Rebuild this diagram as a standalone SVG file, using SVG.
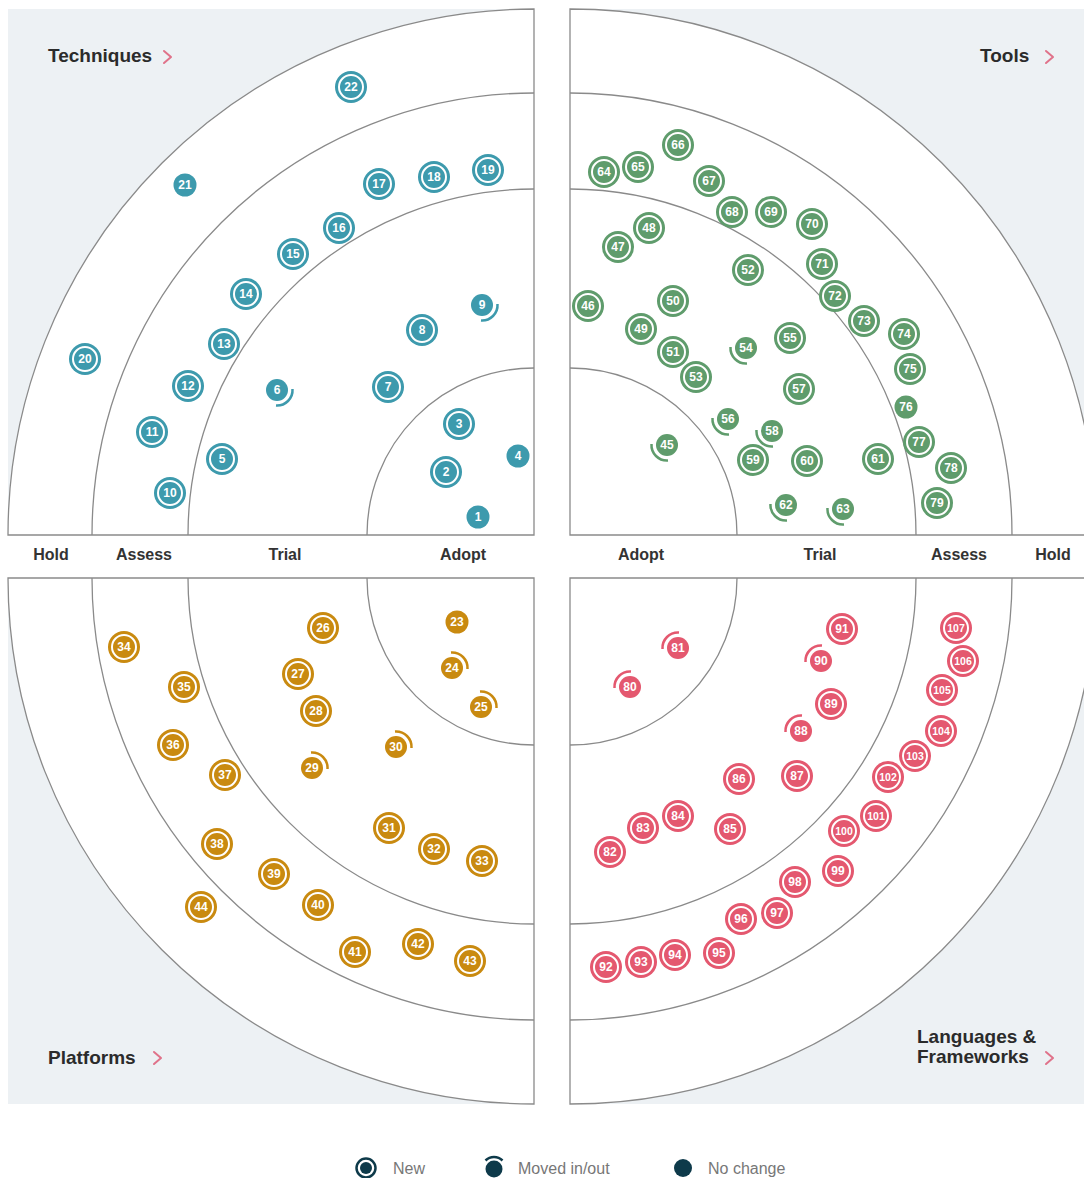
<svg xmlns="http://www.w3.org/2000/svg" xmlns:xlink="http://www.w3.org/1999/xlink" width="1084" height="1178" viewBox="0 0 1084 1178">
<style>
text{font-family:"Liberation Sans",Arial,sans-serif}
.ring{fill:none;stroke:#8a8a8a;stroke-width:1.3}
.title{font-size:19px;font-weight:bold;fill:#2b2b2b}
.chev{fill:none;stroke:#e0728a;stroke-width:2;stroke-linecap:round;stroke-linejoin:round}
.lbl{font-size:16px;font-weight:bold;fill:#333;text-anchor:middle}
.leg{font-size:16px;fill:#777}
.w{fill:none;stroke:#fff;stroke-width:2}
.a{fill:none;stroke-width:2.5}
.n{font-size:12px;font-weight:bold;fill:#fff;text-anchor:middle}
.n3{font-size:10.5px;font-weight:bold;fill:#fff;text-anchor:middle}
.tech .d{fill:#3d9aad}.tech .a{stroke:#3d9aad}
.tool .d{fill:#5f9c6c}.tool .a{stroke:#5f9c6c}
.plat .d{fill:#c98a10}.plat .a{stroke:#c98a10}
.lang .d{fill:#e4586f}.lang .a{stroke:#e4586f}
</style>
<defs>
<g id="quad">
<rect x="-526" y="-526" width="526" height="526" fill="#edf1f4"/>
<path d="M0 0 H-526 A526 526 0 0 1 0 -526 Z" fill="#fff" stroke="#8a8a8a" stroke-width="1.3"/>
<path class="ring" d="M-442 0 A442 442 0 0 1 0 -442 M-346 0 A346 346 0 0 1 0 -346 M-167 0 A167 167 0 0 1 0 -167"/>
</g>
<path id="aSE" d="M15.5 -1 A15.5 15.5 0 0 1 -1 15.5"/>
<path id="aSW" d="M1 15.5 A15.5 15.5 0 0 1 -15.5 -1"/>
<path id="aNE" d="M-1 -15.5 A15.5 15.5 0 0 1 15.5 1"/>
<path id="aNW" d="M-15.5 1 A15.5 15.5 0 0 1 1 -15.5"/>
</defs>
<rect width="1084" height="1178" fill="#fff"/>
<g id="quadrants">
<use xlink:href="#quad" transform="translate(534,535)"/>
<use xlink:href="#quad" transform="translate(570,535) scale(-1,1)"/>
<use xlink:href="#quad" transform="translate(534,578) scale(1,-1)"/>
<use xlink:href="#quad" transform="translate(570,578) scale(-1,-1)"/>
</g>
<g id="titles">
<text class="title" x="48" y="62">Techniques</text>
<polyline class="chev" points="164,51 171,57 164,63"/>
<text class="title" x="980" y="62">Tools</text>
<polyline class="chev" points="1046,51 1053,57 1046,63"/>
<text class="title" x="48" y="1064">Platforms</text>
<polyline class="chev" points="154,1052 161,1058 154,1064"/>
<text class="title" x="917" y="1043">Languages &amp;</text>
<text class="title" x="917" y="1063">Frameworks</text>
<polyline class="chev" points="1046,1052 1053,1058 1046,1064"/>
</g>
<g id="ring-labels">
<text class="lbl" x="51" y="560">Hold</text>
<text class="lbl" x="144" y="560">Assess</text>
<text class="lbl" x="285" y="560">Trial</text>
<text class="lbl" x="463" y="560">Adopt</text>
<text class="lbl" x="641" y="560">Adopt</text>
<text class="lbl" x="820" y="560">Trial</text>
<text class="lbl" x="959" y="560">Assess</text>
<text class="lbl" x="1053" y="560">Hold</text>
</g>
<g id="connectors"/>
<g id="techniques" class="tech">
<g id="b1" transform="translate(478,517)"><circle class="d" r="11.5"/><text class="n" y="4.3">1</text></g>
<g id="b2" transform="translate(446,472)"><circle class="d" r="16"/><circle class="w" r="12"/><text class="n" y="4.3">2</text></g>
<g id="b3" transform="translate(459,424)"><circle class="d" r="16"/><circle class="w" r="12"/><text class="n" y="4.3">3</text></g>
<g id="b4" transform="translate(518,456)"><circle class="d" r="11.5"/><text class="n" y="4.3">4</text></g>
<g id="b5" transform="translate(222,459)"><circle class="d" r="16"/><circle class="w" r="12"/><text class="n" y="4.3">5</text></g>
<g id="b6" transform="translate(277,390)"><circle class="d" r="11"/><use class="a" xlink:href="#aSE"/><text class="n" y="4.3">6</text></g>
<g id="b7" transform="translate(388,387)"><circle class="d" r="16"/><circle class="w" r="12"/><text class="n" y="4.3">7</text></g>
<g id="b8" transform="translate(422,330)"><circle class="d" r="16"/><circle class="w" r="12"/><text class="n" y="4.3">8</text></g>
<g id="b9" transform="translate(482,305)"><circle class="d" r="11"/><use class="a" xlink:href="#aSE"/><text class="n" y="4.3">9</text></g>
<g id="b10" transform="translate(170,493)"><circle class="d" r="16"/><circle class="w" r="12"/><text class="n" y="4.3">10</text></g>
<g id="b11" transform="translate(152,432)"><circle class="d" r="16"/><circle class="w" r="12"/><text class="n" y="4.3">11</text></g>
<g id="b12" transform="translate(188,386)"><circle class="d" r="16"/><circle class="w" r="12"/><text class="n" y="4.3">12</text></g>
<g id="b13" transform="translate(224,344)"><circle class="d" r="16"/><circle class="w" r="12"/><text class="n" y="4.3">13</text></g>
<g id="b14" transform="translate(246,294)"><circle class="d" r="16"/><circle class="w" r="12"/><text class="n" y="4.3">14</text></g>
<g id="b15" transform="translate(293,254)"><circle class="d" r="16"/><circle class="w" r="12"/><text class="n" y="4.3">15</text></g>
<g id="b16" transform="translate(339,228)"><circle class="d" r="16"/><circle class="w" r="12"/><text class="n" y="4.3">16</text></g>
<g id="b17" transform="translate(379,184)"><circle class="d" r="16"/><circle class="w" r="12"/><text class="n" y="4.3">17</text></g>
<g id="b18" transform="translate(434,177)"><circle class="d" r="16"/><circle class="w" r="12"/><text class="n" y="4.3">18</text></g>
<g id="b19" transform="translate(488,170)"><circle class="d" r="16"/><circle class="w" r="12"/><text class="n" y="4.3">19</text></g>
<g id="b20" transform="translate(85,359)"><circle class="d" r="16"/><circle class="w" r="12"/><text class="n" y="4.3">20</text></g>
<g id="b21" transform="translate(185,185)"><circle class="d" r="11.5"/><text class="n" y="4.3">21</text></g>
<g id="b22" transform="translate(351,87)"><circle class="d" r="16"/><circle class="w" r="12"/><text class="n" y="4.3">22</text></g>
</g>
<g id="tools" class="tool">
<g id="b45" transform="translate(667,445)"><circle class="d" r="11"/><use class="a" xlink:href="#aSW"/><text class="n" y="4.3">45</text></g>
<g id="b46" transform="translate(588,306)"><circle class="d" r="16"/><circle class="w" r="12"/><text class="n" y="4.3">46</text></g>
<g id="b47" transform="translate(618,247)"><circle class="d" r="16"/><circle class="w" r="12"/><text class="n" y="4.3">47</text></g>
<g id="b48" transform="translate(649,228)"><circle class="d" r="16"/><circle class="w" r="12"/><text class="n" y="4.3">48</text></g>
<g id="b49" transform="translate(641,329)"><circle class="d" r="16"/><circle class="w" r="12"/><text class="n" y="4.3">49</text></g>
<g id="b50" transform="translate(673,301)"><circle class="d" r="16"/><circle class="w" r="12"/><text class="n" y="4.3">50</text></g>
<g id="b51" transform="translate(673,352)"><circle class="d" r="16"/><circle class="w" r="12"/><text class="n" y="4.3">51</text></g>
<g id="b52" transform="translate(748,270)"><circle class="d" r="16"/><circle class="w" r="12"/><text class="n" y="4.3">52</text></g>
<g id="b53" transform="translate(696,377)"><circle class="d" r="16"/><circle class="w" r="12"/><text class="n" y="4.3">53</text></g>
<g id="b54" transform="translate(746,348)"><circle class="d" r="11"/><use class="a" xlink:href="#aSW"/><text class="n" y="4.3">54</text></g>
<g id="b55" transform="translate(790,338)"><circle class="d" r="16"/><circle class="w" r="12"/><text class="n" y="4.3">55</text></g>
<g id="b56" transform="translate(728,419)"><circle class="d" r="11"/><use class="a" xlink:href="#aSW"/><text class="n" y="4.3">56</text></g>
<g id="b57" transform="translate(799,389)"><circle class="d" r="16"/><circle class="w" r="12"/><text class="n" y="4.3">57</text></g>
<g id="b58" transform="translate(772,431)"><circle class="d" r="11"/><use class="a" xlink:href="#aSW"/><text class="n" y="4.3">58</text></g>
<g id="b59" transform="translate(753,460)"><circle class="d" r="16"/><circle class="w" r="12"/><text class="n" y="4.3">59</text></g>
<g id="b60" transform="translate(807,461)"><circle class="d" r="16"/><circle class="w" r="12"/><text class="n" y="4.3">60</text></g>
<g id="b61" transform="translate(878,459)"><circle class="d" r="16"/><circle class="w" r="12"/><text class="n" y="4.3">61</text></g>
<g id="b62" transform="translate(786,505)"><circle class="d" r="11"/><use class="a" xlink:href="#aSW"/><text class="n" y="4.3">62</text></g>
<g id="b63" transform="translate(843,509)"><circle class="d" r="11"/><use class="a" xlink:href="#aSW"/><text class="n" y="4.3">63</text></g>
<g id="b64" transform="translate(604,172)"><circle class="d" r="16"/><circle class="w" r="12"/><text class="n" y="4.3">64</text></g>
<g id="b65" transform="translate(638,167)"><circle class="d" r="16"/><circle class="w" r="12"/><text class="n" y="4.3">65</text></g>
<g id="b66" transform="translate(678,145)"><circle class="d" r="16"/><circle class="w" r="12"/><text class="n" y="4.3">66</text></g>
<g id="b67" transform="translate(709,181)"><circle class="d" r="16"/><circle class="w" r="12"/><text class="n" y="4.3">67</text></g>
<g id="b68" transform="translate(732,212)"><circle class="d" r="16"/><circle class="w" r="12"/><text class="n" y="4.3">68</text></g>
<g id="b69" transform="translate(771,212)"><circle class="d" r="16"/><circle class="w" r="12"/><text class="n" y="4.3">69</text></g>
<g id="b70" transform="translate(812,224)"><circle class="d" r="16"/><circle class="w" r="12"/><text class="n" y="4.3">70</text></g>
<g id="b71" transform="translate(822,264)"><circle class="d" r="16"/><circle class="w" r="12"/><text class="n" y="4.3">71</text></g>
<g id="b72" transform="translate(835,296)"><circle class="d" r="16"/><circle class="w" r="12"/><text class="n" y="4.3">72</text></g>
<g id="b73" transform="translate(864,321)"><circle class="d" r="16"/><circle class="w" r="12"/><text class="n" y="4.3">73</text></g>
<g id="b74" transform="translate(904,334)"><circle class="d" r="16"/><circle class="w" r="12"/><text class="n" y="4.3">74</text></g>
<g id="b75" transform="translate(910,369)"><circle class="d" r="16"/><circle class="w" r="12"/><text class="n" y="4.3">75</text></g>
<g id="b76" transform="translate(906,407)"><circle class="d" r="11.5"/><text class="n" y="4.3">76</text></g>
<g id="b77" transform="translate(919,442)"><circle class="d" r="16"/><circle class="w" r="12"/><text class="n" y="4.3">77</text></g>
<g id="b78" transform="translate(951,468)"><circle class="d" r="16"/><circle class="w" r="12"/><text class="n" y="4.3">78</text></g>
<g id="b79" transform="translate(937,503)"><circle class="d" r="16"/><circle class="w" r="12"/><text class="n" y="4.3">79</text></g>
</g>
<g id="platforms" class="plat">
<g id="b23" transform="translate(457,622)"><circle class="d" r="11.5"/><text class="n" y="4.3">23</text></g>
<g id="b24" transform="translate(452,668)"><circle class="d" r="11"/><use class="a" xlink:href="#aNE"/><text class="n" y="4.3">24</text></g>
<g id="b25" transform="translate(481,707)"><circle class="d" r="11"/><use class="a" xlink:href="#aNE"/><text class="n" y="4.3">25</text></g>
<g id="b26" transform="translate(323,628)"><circle class="d" r="16"/><circle class="w" r="12"/><text class="n" y="4.3">26</text></g>
<g id="b27" transform="translate(298,674)"><circle class="d" r="16"/><circle class="w" r="12"/><text class="n" y="4.3">27</text></g>
<g id="b28" transform="translate(316,711)"><circle class="d" r="16"/><circle class="w" r="12"/><text class="n" y="4.3">28</text></g>
<g id="b29" transform="translate(312,768)"><circle class="d" r="11"/><use class="a" xlink:href="#aNE"/><text class="n" y="4.3">29</text></g>
<g id="b30" transform="translate(396,747)"><circle class="d" r="11"/><use class="a" xlink:href="#aNE"/><text class="n" y="4.3">30</text></g>
<g id="b31" transform="translate(389,828)"><circle class="d" r="16"/><circle class="w" r="12"/><text class="n" y="4.3">31</text></g>
<g id="b32" transform="translate(434,849)"><circle class="d" r="16"/><circle class="w" r="12"/><text class="n" y="4.3">32</text></g>
<g id="b33" transform="translate(482,861)"><circle class="d" r="16"/><circle class="w" r="12"/><text class="n" y="4.3">33</text></g>
<g id="b34" transform="translate(124,647)"><circle class="d" r="16"/><circle class="w" r="12"/><text class="n" y="4.3">34</text></g>
<g id="b35" transform="translate(184,687)"><circle class="d" r="16"/><circle class="w" r="12"/><text class="n" y="4.3">35</text></g>
<g id="b36" transform="translate(173,745)"><circle class="d" r="16"/><circle class="w" r="12"/><text class="n" y="4.3">36</text></g>
<g id="b37" transform="translate(225,775)"><circle class="d" r="16"/><circle class="w" r="12"/><text class="n" y="4.3">37</text></g>
<g id="b38" transform="translate(217,844)"><circle class="d" r="16"/><circle class="w" r="12"/><text class="n" y="4.3">38</text></g>
<g id="b39" transform="translate(274,874)"><circle class="d" r="16"/><circle class="w" r="12"/><text class="n" y="4.3">39</text></g>
<g id="b40" transform="translate(318,905)"><circle class="d" r="16"/><circle class="w" r="12"/><text class="n" y="4.3">40</text></g>
<g id="b41" transform="translate(355,952)"><circle class="d" r="16"/><circle class="w" r="12"/><text class="n" y="4.3">41</text></g>
<g id="b42" transform="translate(418,944)"><circle class="d" r="16"/><circle class="w" r="12"/><text class="n" y="4.3">42</text></g>
<g id="b43" transform="translate(470,961)"><circle class="d" r="16"/><circle class="w" r="12"/><text class="n" y="4.3">43</text></g>
<g id="b44" transform="translate(201,907)"><circle class="d" r="16"/><circle class="w" r="12"/><text class="n" y="4.3">44</text></g>
</g>
<g id="languages" class="lang">
<g id="b80" transform="translate(630,687)"><circle class="d" r="11"/><use class="a" xlink:href="#aNW"/><text class="n" y="4.3">80</text></g>
<g id="b81" transform="translate(678,648)"><circle class="d" r="11"/><use class="a" xlink:href="#aNW"/><text class="n" y="4.3">81</text></g>
<g id="b82" transform="translate(610,852)"><circle class="d" r="16"/><circle class="w" r="12"/><text class="n" y="4.3">82</text></g>
<g id="b83" transform="translate(643,828)"><circle class="d" r="16"/><circle class="w" r="12"/><text class="n" y="4.3">83</text></g>
<g id="b84" transform="translate(678,816)"><circle class="d" r="16"/><circle class="w" r="12"/><text class="n" y="4.3">84</text></g>
<g id="b85" transform="translate(730,829)"><circle class="d" r="16"/><circle class="w" r="12"/><text class="n" y="4.3">85</text></g>
<g id="b86" transform="translate(739,779)"><circle class="d" r="16"/><circle class="w" r="12"/><text class="n" y="4.3">86</text></g>
<g id="b87" transform="translate(797,776)"><circle class="d" r="16"/><circle class="w" r="12"/><text class="n" y="4.3">87</text></g>
<g id="b88" transform="translate(801,731)"><circle class="d" r="11"/><use class="a" xlink:href="#aNW"/><text class="n" y="4.3">88</text></g>
<g id="b89" transform="translate(831,704)"><circle class="d" r="16"/><circle class="w" r="12"/><text class="n" y="4.3">89</text></g>
<g id="b90" transform="translate(821,661)"><circle class="d" r="11"/><use class="a" xlink:href="#aNW"/><text class="n" y="4.3">90</text></g>
<g id="b91" transform="translate(842,629)"><circle class="d" r="16"/><circle class="w" r="12"/><text class="n" y="4.3">91</text></g>
<g id="b92" transform="translate(606,967)"><circle class="d" r="16"/><circle class="w" r="12"/><text class="n" y="4.3">92</text></g>
<g id="b93" transform="translate(641,962)"><circle class="d" r="16"/><circle class="w" r="12"/><text class="n" y="4.3">93</text></g>
<g id="b94" transform="translate(675,955)"><circle class="d" r="16"/><circle class="w" r="12"/><text class="n" y="4.3">94</text></g>
<g id="b95" transform="translate(719,953)"><circle class="d" r="16"/><circle class="w" r="12"/><text class="n" y="4.3">95</text></g>
<g id="b96" transform="translate(741,919)"><circle class="d" r="16"/><circle class="w" r="12"/><text class="n" y="4.3">96</text></g>
<g id="b97" transform="translate(777,913)"><circle class="d" r="16"/><circle class="w" r="12"/><text class="n" y="4.3">97</text></g>
<g id="b98" transform="translate(795,882)"><circle class="d" r="16"/><circle class="w" r="12"/><text class="n" y="4.3">98</text></g>
<g id="b99" transform="translate(838,871)"><circle class="d" r="16"/><circle class="w" r="12"/><text class="n" y="4.3">99</text></g>
<g id="b100" transform="translate(844,831)"><circle class="d" r="16"/><circle class="w" r="12"/><text class="n3" y="3.8">100</text></g>
<g id="b101" transform="translate(876,816)"><circle class="d" r="16"/><circle class="w" r="12"/><text class="n3" y="3.8">101</text></g>
<g id="b102" transform="translate(888,777)"><circle class="d" r="16"/><circle class="w" r="12"/><text class="n3" y="3.8">102</text></g>
<g id="b103" transform="translate(915,756)"><circle class="d" r="16"/><circle class="w" r="12"/><text class="n3" y="3.8">103</text></g>
<g id="b104" transform="translate(941,731)"><circle class="d" r="16"/><circle class="w" r="12"/><text class="n3" y="3.8">104</text></g>
<g id="b105" transform="translate(942,690)"><circle class="d" r="16"/><circle class="w" r="12"/><text class="n3" y="3.8">105</text></g>
<g id="b106" transform="translate(963,661)"><circle class="d" r="16"/><circle class="w" r="12"/><text class="n3" y="3.8">106</text></g>
<g id="b107" transform="translate(956,628)"><circle class="d" r="16"/><circle class="w" r="12"/><text class="n3" y="3.8">107</text></g>
</g>
<g id="legend">
<circle cx="366" cy="1168" r="9.5" fill="none" stroke="#0e3a4a" stroke-width="2.5"/>
<circle cx="366" cy="1168" r="6" fill="#0e3a4a"/>
<text class="leg" x="393" y="1174">New</text>
<circle cx="494" cy="1169" r="8.5" fill="#0e3a4a"/>
<path d="M485.5 1160.5 A12 12 0 0 1 502.5 1160.5" fill="none" stroke="#0e3a4a" stroke-width="2.5"/>
<text class="leg" x="518" y="1174">Moved in/out</text>
<circle cx="683" cy="1168" r="9" fill="#0e3a4a"/>
<text class="leg" x="708" y="1174">No change</text>
</g>
</svg>
